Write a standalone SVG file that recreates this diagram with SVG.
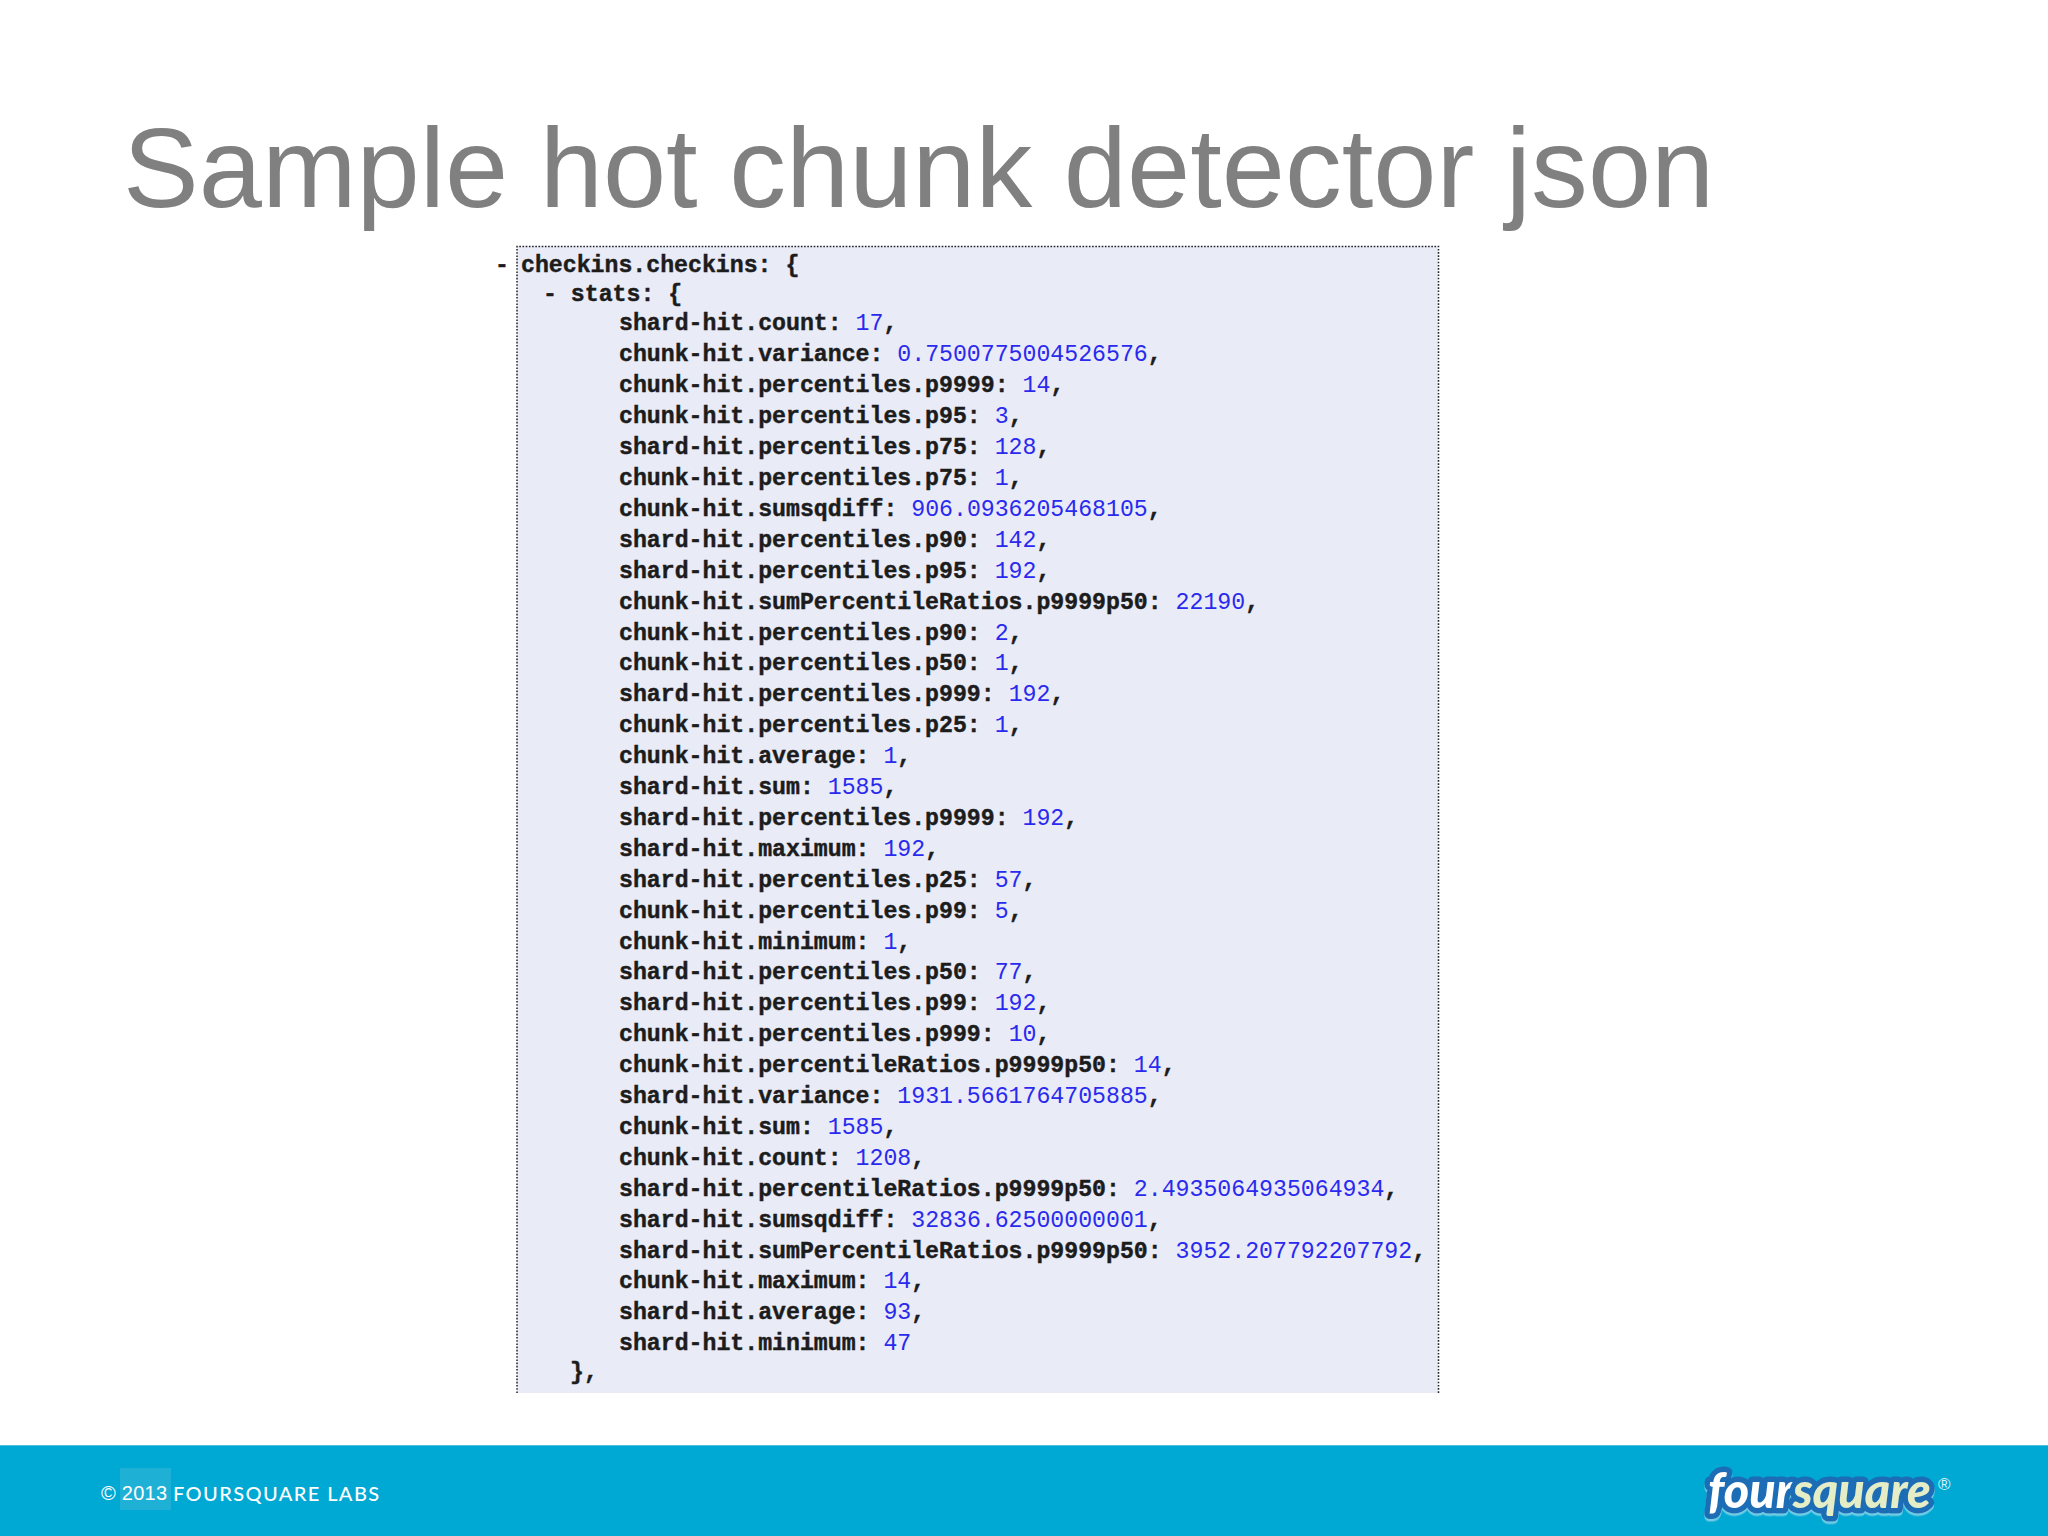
<svg xmlns="http://www.w3.org/2000/svg" width="2048" height="1536" viewBox="0 0 2048 1536">
<defs>
<filter id="lift" x="-5%" y="-10%" width="110%" height="130%"><feDropShadow dx="0" dy="2.5" stdDeviation="0.4" flood-color="#6fcbe4"/></filter>
</defs>
<style>
.t{font-family:"Liberation Sans",Arial,sans-serif;fill:#808080;font-size:113.6px}
.j{font-family:"Liberation Mono","Courier New",monospace;font-size:23.2px;font-weight:700;fill:#1c1c1c;stroke:#1c1c1c;stroke-width:.45;white-space:pre}
.v{fill:#2a2aee;stroke:none;font-weight:400}
.b{stroke:#222;stroke-width:1.5;stroke-dasharray:1.6 1.6;fill:none}
.f{fill:#fff;font-size:20px}
.logo{font-family:"Lato","Open Sans",sans-serif;font-weight:900;font-style:italic;font-size:50px;paint-order:stroke;stroke:#1a6db5;stroke-width:11;stroke-linejoin:round;filter:url(#lift)}
</style>
<rect width="2048" height="1536" fill="#fff"/>
<text class="t" x="123" y="207">Sample hot chunk detector json</text>
<g id="panel-json">
<rect x="517" y="246" width="921" height="1147" fill="#e9ebf7"/>
<path class="b" d="M517 1393V246.500H1438.500V1393"/>
<text class="j" x="521" y="272">checkins.checkins: {</text>
<text class="j" x="495" y="272">-</text>
<text class="j" x="543" y="301">- stats: {</text>
<text class="j" x="619" y="330">shard-hit.count: <tspan class="v">17</tspan>,</text>
<text class="j" x="619" y="361">chunk-hit.variance: <tspan class="v">0.7500775004526576</tspan>,</text>
<text class="j" x="619" y="392">chunk-hit.percentiles.p9999: <tspan class="v">14</tspan>,</text>
<text class="j" x="619" y="423">chunk-hit.percentiles.p95: <tspan class="v">3</tspan>,</text>
<text class="j" x="619" y="454">shard-hit.percentiles.p75: <tspan class="v">128</tspan>,</text>
<text class="j" x="619" y="485">chunk-hit.percentiles.p75: <tspan class="v">1</tspan>,</text>
<text class="j" x="619" y="516">chunk-hit.sumsqdiff: <tspan class="v">906.0936205468105</tspan>,</text>
<text class="j" x="619" y="547">shard-hit.percentiles.p90: <tspan class="v">142</tspan>,</text>
<text class="j" x="619" y="578">shard-hit.percentiles.p95: <tspan class="v">192</tspan>,</text>
<text class="j" x="619" y="609">chunk-hit.sumPercentileRatios.p9999p50: <tspan class="v">22190</tspan>,</text>
<text class="j" x="619" y="640">chunk-hit.percentiles.p90: <tspan class="v">2</tspan>,</text>
<text class="j" x="619" y="670">chunk-hit.percentiles.p50: <tspan class="v">1</tspan>,</text>
<text class="j" x="619" y="701">shard-hit.percentiles.p999: <tspan class="v">192</tspan>,</text>
<text class="j" x="619" y="732">chunk-hit.percentiles.p25: <tspan class="v">1</tspan>,</text>
<text class="j" x="619" y="763">chunk-hit.average: <tspan class="v">1</tspan>,</text>
<text class="j" x="619" y="794">shard-hit.sum: <tspan class="v">1585</tspan>,</text>
<text class="j" x="619" y="825">shard-hit.percentiles.p9999: <tspan class="v">192</tspan>,</text>
<text class="j" x="619" y="856">shard-hit.maximum: <tspan class="v">192</tspan>,</text>
<text class="j" x="619" y="887">shard-hit.percentiles.p25: <tspan class="v">57</tspan>,</text>
<text class="j" x="619" y="918">chunk-hit.percentiles.p99: <tspan class="v">5</tspan>,</text>
<text class="j" x="619" y="949">chunk-hit.minimum: <tspan class="v">1</tspan>,</text>
<text class="j" x="619" y="979">shard-hit.percentiles.p50: <tspan class="v">77</tspan>,</text>
<text class="j" x="619" y="1010">shard-hit.percentiles.p99: <tspan class="v">192</tspan>,</text>
<text class="j" x="619" y="1041">chunk-hit.percentiles.p999: <tspan class="v">10</tspan>,</text>
<text class="j" x="619" y="1072">chunk-hit.percentileRatios.p9999p50: <tspan class="v">14</tspan>,</text>
<text class="j" x="619" y="1103">shard-hit.variance: <tspan class="v">1931.5661764705885</tspan>,</text>
<text class="j" x="619" y="1134">chunk-hit.sum: <tspan class="v">1585</tspan>,</text>
<text class="j" x="619" y="1165">chunk-hit.count: <tspan class="v">1208</tspan>,</text>
<text class="j" x="619" y="1196">shard-hit.percentileRatios.p9999p50: <tspan class="v">2.4935064935064934</tspan>,</text>
<text class="j" x="619" y="1227">shard-hit.sumsqdiff: <tspan class="v">32836.62500000001</tspan>,</text>
<text class="j" x="619" y="1258">shard-hit.sumPercentileRatios.p9999p50: <tspan class="v">3952.207792207792</tspan>,</text>
<text class="j" x="619" y="1288">chunk-hit.maximum: <tspan class="v">14</tspan>,</text>
<text class="j" x="619" y="1319">shard-hit.average: <tspan class="v">93</tspan>,</text>
<text class="j" x="619" y="1350">shard-hit.minimum: <tspan class="v">47</tspan></text>
<text class="j" x="570" y="1379">},</text>
</g>
<g id="footer">
<rect y="1445" width="2048" height="91" fill="#00a9d4"/>
<rect y="1445" width="2048" height="1" fill="#4fc0de"/>
<rect x="120" y="1468" width="51" height="42" fill="#1fb0d6"/>
<text class="f" x="101" y="1500" font-family="Liberation Sans,sans-serif" font-size="21" textLength="66">© 2013</text>
<text class="f" x="173" y="1501" font-family="Lato,sans-serif" font-weight="500" letter-spacing="1.4">FOURSQUARE LABS</text>
<text class="logo" transform="translate(1708 1508) scale(.97 1)"><tspan fill="#fff">four</tspan><tspan fill="#e4edc6">square</tspan></text>
<text x="1938" y="1490" font-family="Liberation Sans,sans-serif" font-size="17" fill="#d8f2f9">®</text>
</g>
</svg>
